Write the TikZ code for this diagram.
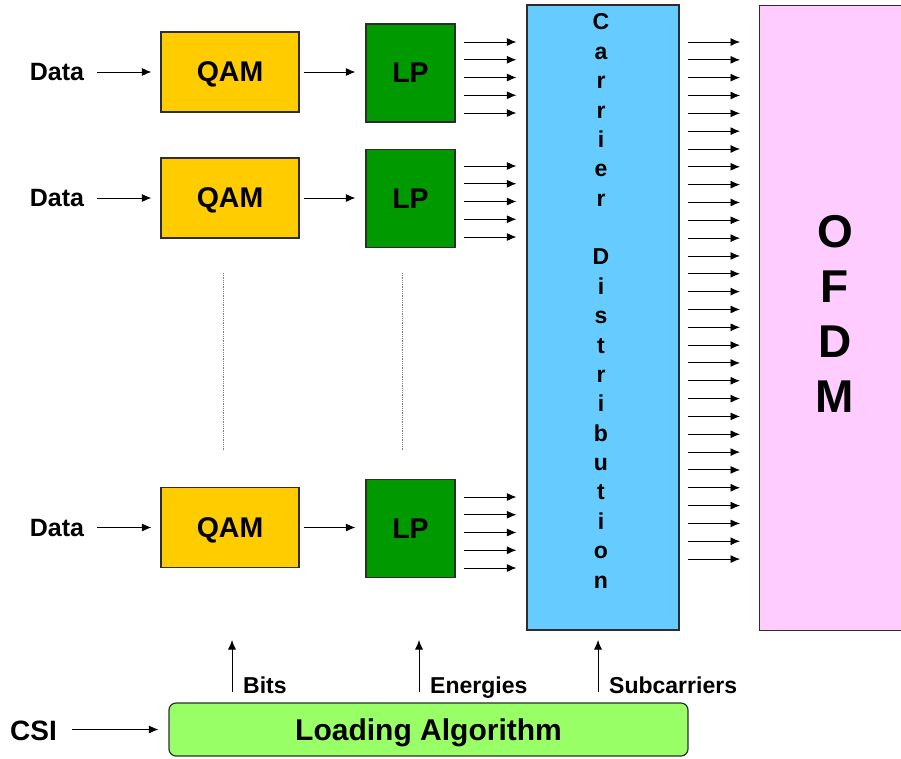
\documentclass[tikz,border=0pt]{standalone}
\usepackage{fontspec}
\setmainfont{Liberation Sans}
\usetikzlibrary{arrows.meta,calc}
\definecolor{QamClr}{RGB}{255,204,0}
\definecolor{LpClr}{RGB}{0,153,0}
\definecolor{CarrierClr}{RGB}{102,204,255}
\definecolor{OfdmClr}{RGB}{255,204,255}
\definecolor{LoadClr}{RGB}{153,255,102}
\definecolor{EdgeClr}{RGB}{45,45,45}

\tikzset{
  block/.style={draw=EdgeClr,line width=1.2pt,inner sep=0pt},
  lbl/.style={inner sep=0pt,text depth=0pt,font=\bfseries\fontsize{#1}{#1}\selectfont},
  lbl/.default=25,
  arr/.style={-{Latex[length=9.5pt,width=8pt]},line width=0.9pt},
}

\begin{document}
\begin{tikzpicture}[x=1pt,y=-1pt]
\useasboundingbox (0,0) rectangle (901,758);

\foreach \i/\y/\yy in {1/72/73,2/198/198.5,3/527.5/528.5}{
  \node[lbl] (data\i) at (57,\y) {Data};
  \node[block,fill=QamClr,minimum width=138pt,minimum height=80pt,lbl=28.5] (qam\i) at (230,\y) {QAM};
  \node[block,fill=LpClr,minimum width=89pt,minimum height=98pt,lbl=28.5] (lp\i) at (410.5,\yy) {LP};
  \draw[arr] ([xshift=13pt]data\i.east) -- ([xshift=-9pt]qam\i.west);
  \draw[arr] ([xshift=4pt]qam\i.east) -- ([xshift=-10pt]lp\i.west |- qam\i);
}

\draw[densely dotted,gray,line width=0.8pt] (223,273) -- (223,451);
\draw[densely dotted,gray,line width=0.8pt] (402,273) -- (402,451);

\node[block,fill=CarrierClr,minimum width=152pt,minimum height=625pt] (carrier) at (603,317.5) {};
\node[block,fill=OfdmClr,minimum width=160pt,minimum height=625pt,anchor=north west] (ofdm) at (759,5) {};

\foreach \ch [count=\i] in {C,a,r,r,i,e,r,,D,i,s,t,r,i,b,u,t,i,o,n}
  \node[lbl=23,anchor=base] (cd\i) at (601,{0.6+29.37*\i}) {\ch};
\foreach \ch [count=\i] in {O,F,D,M}
  \node[lbl=46,anchor=base] (of\i) at (835,{192+55*\i}) {\ch};

\foreach \n/\y in {1/42,2/166,3/497}{
  \foreach \k [evaluate=\k as \yk using \y+17.75*\k] in {0,...,4}{
    \coordinate (yk) at (0,\yk);
    \draw[arr] ([xshift=8pt]lp\n.east |- yk) -- ([xshift=-10pt]carrier.west |- yk);
  }
}
\foreach \k [evaluate=\k as \yk using 42+17.83*\k] in {0,...,29}{
  \coordinate (yk) at (0,\yk);
  \draw[arr] ([xshift=8pt]carrier.east |- yk) -- ([xshift=-19pt]ofdm.west |- yk);
}

\node[block,fill=LoadClr,rounded corners=7pt,minimum width=519pt,minimum height=53pt,lbl=30] (loading) at (428.5,729.5) {Loading Algorithm};
\node[lbl=28] (csi) at (33.5,731) {CSI};
\draw[arr] ([xshift=15pt]csi.east |- loading) -- ([xshift=-10pt]loading.west);

\foreach \x/\t/\nm in {232/Bits/bits,419/Energies/energies,598/Subcarriers/subc}{
  \coordinate (\nm) at (\x,640);
  \draw[arr] ([yshift=10pt]loading.north -| \nm) -- (\nm);
  \node[lbl=23,anchor=base west] (\nm lbl) at (\x+11,693) {\t};
}

\end{tikzpicture}
\end{document}
